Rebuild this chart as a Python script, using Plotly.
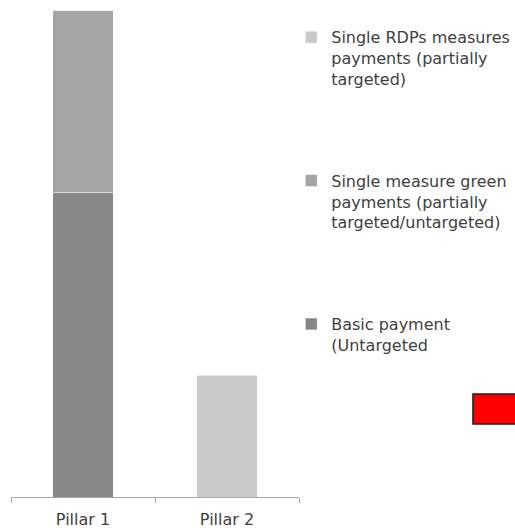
import plotly.graph_objects as go

categories = ["Pillar 1", "Pillar 2"]
basic_payment = [50, 0]
green_payments = [30, 0]
rdp_payments = [0, 20]

series_names = [
    "Basic payment<br>(Untargeted",
    "Single measure green<br>payments (partially<br>targeted/untargeted)",
    "Single RDPs measures<br>payments (partially<br>targeted)",
]
series_colors = ["#878787", "#a5a5a5", "#c9c9c9"]
series_values = [basic_payment, green_payments, rdp_payments]
legend_ranks = [3, 2, 1]

FONT = "DejaVu Sans"

fig = go.Figure()
for i, (name, vals, col) in enumerate(zip(series_names, series_values, series_colors)):
    fig.add_trace(go.Bar(
        x=categories, y=vals, name=name, legendgroup=f"g{i}",
        legendrank=legend_ranks[i],
        marker=dict(color=col, line=dict(color="rgba(255,255,255,0.6)", width=1)),
        hoverinfo="skip",
    ))

fig.update_layout(
    barmode="stack",
    bargap=0.58,
    width=515, height=528,
    margin=dict(l=11, r=216, t=9.5, b=31, autoexpand=False),
    plot_bgcolor="white", paper_bgcolor="white",
    font=dict(family=FONT, size=16, color="#404040"),
    showlegend=True,
    legend=dict(
        x=0.973, xanchor="left", y=0.979, yanchor="top",
        traceorder="grouped", tracegroupgap=78, valign="top",
        font=dict(family=FONT, size=16, color="#404040"),
        itemclick=False, itemdoubleclick=False,
        bgcolor="rgba(0,0,0,0)",
    ),
    xaxis=dict(
        type="category", range=[-0.5, 1.5], automargin=False,
        showline=True, linecolor="#a6a6a6", linewidth=1,
        ticks="outside", tickson="boundaries", ticklen=5, tickcolor="#a6a6a6",
        showgrid=False, fixedrange=True, ticklabelstandoff=8,
        tickfont=dict(family=FONT, size=16, color="#404040"),
    ),
    yaxis=dict(
        range=[0, 80], visible=False, showgrid=False, fixedrange=True,
        automargin=False,
    ),
    shapes=[dict(
        type="rect", xref="paper", yref="paper",
        x0=1.604, x1=1.80, y0=0.1497, y1=0.2113,
        fillcolor="#ff0000", line=dict(color="#202020", width=1.5),
    )],
)

fig.write_html("out.html", config={"displayModeBar": False},
               post_script="document.body.style.margin='0';")
